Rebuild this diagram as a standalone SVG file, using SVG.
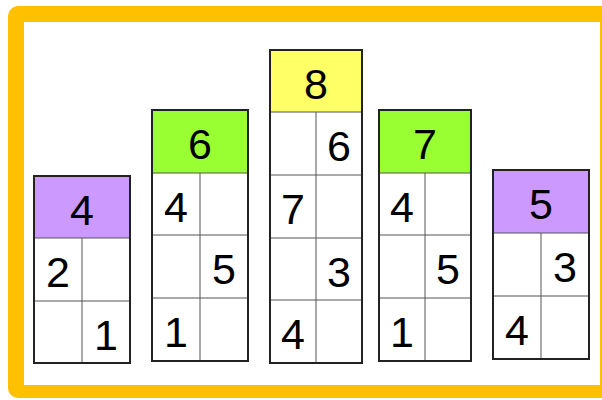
<svg xmlns="http://www.w3.org/2000/svg" width="602" height="400" viewBox="0 0 602 400">
<style>
.box{fill:#fff;stroke:#222;stroke-width:2}
.hp{fill:#CC99FF}.hg{fill:#99FF33}.hy{fill:#FFFF66}
.ln{stroke:#555;stroke-width:1;fill:none}
text{font-family:"Liberation Sans",Arial,sans-serif;font-size:43px;fill:#000;text-anchor:middle}
</style>
<rect x="0" y="0" width="602" height="400" fill="#fff"/>
<g id="frame">
<rect x="8" y="6" width="620" height="392" rx="10" fill="#FFC000"/>
<rect x="24" y="22" width="576" height="363" fill="#fff"/>
</g>
<g id="col4">
<rect class="hp" x="34" y="176" width="96" height="62"/>
<line class="ln" x1="34" y1="238" x2="130" y2="238"/>
<line class="ln" x1="34" y1="301" x2="130" y2="301"/>
<line class="ln" x1="82" y1="238" x2="82" y2="363"/>
<rect class="box" x="34" y="176" width="96" height="187" fill="none" style="fill:none"/>
<text x="82" y="224.5">4</text>
<text x="58" y="287">2</text>
<text x="106" y="349.5">1</text>
</g>
<g id="col6">
<rect class="hg" x="152" y="110" width="96" height="63"/>
<line class="ln" x1="152" y1="173" x2="248" y2="173"/>
<line class="ln" x1="152" y1="235" x2="248" y2="235"/>
<line class="ln" x1="152" y1="298" x2="248" y2="298"/>
<line class="ln" x1="200" y1="173" x2="200" y2="361"/>
<rect class="box" x="152" y="110" width="96" height="251" style="fill:none"/>
<text x="200" y="159">6</text>
<text x="176" y="221.5">4</text>
<text x="224" y="284">5</text>
<text x="176" y="347">1</text>
</g>
<g id="col8">
<rect class="hy" x="270" y="50" width="92" height="62"/>
<line class="ln" x1="270" y1="112" x2="362" y2="112"/>
<line class="ln" x1="270" y1="175" x2="362" y2="175"/>
<line class="ln" x1="270" y1="238" x2="362" y2="238"/>
<line class="ln" x1="270" y1="300" x2="362" y2="300"/>
<line class="ln" x1="316" y1="112" x2="316" y2="363"/>
<rect class="box" x="270" y="50" width="92" height="313" style="fill:none"/>
<text x="316" y="98.5">8</text>
<text x="339" y="161">6</text>
<text x="293" y="224">7</text>
<text x="339" y="286.5">3</text>
<text x="293" y="349">4</text>
</g>
<g id="col7">
<rect class="hg" x="379" y="110" width="92" height="63"/>
<line class="ln" x1="379" y1="173" x2="471" y2="173"/>
<line class="ln" x1="379" y1="235" x2="471" y2="235"/>
<line class="ln" x1="379" y1="298" x2="471" y2="298"/>
<line class="ln" x1="425" y1="173" x2="425" y2="361"/>
<rect class="box" x="379" y="110" width="92" height="251" style="fill:none"/>
<text x="425" y="159">7</text>
<text x="402" y="221.5">4</text>
<text x="448" y="284">5</text>
<text x="402" y="347">1</text>
</g>
<g id="col5">
<rect class="hp" x="493" y="170" width="96" height="63"/>
<line class="ln" x1="493" y1="233" x2="589" y2="233"/>
<line class="ln" x1="493" y1="296" x2="589" y2="296"/>
<line class="ln" x1="541" y1="233" x2="541" y2="359"/>
<rect class="box" x="493" y="170" width="96" height="189" style="fill:none"/>
<text x="541" y="219">5</text>
<text x="565" y="282">3</text>
<text x="517" y="345">4</text>
</g>
</svg>
